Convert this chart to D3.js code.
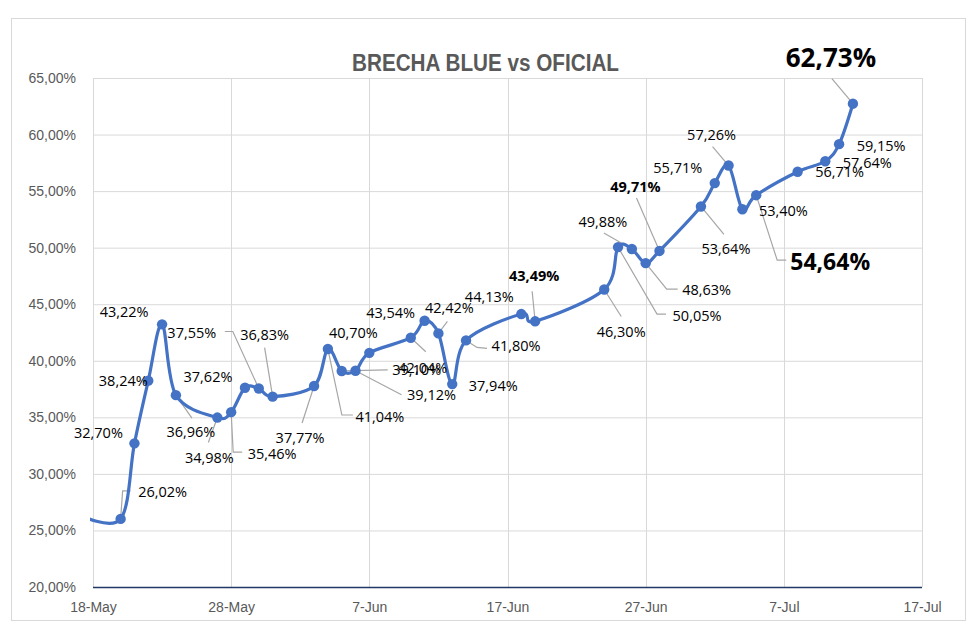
<!DOCTYPE html>
<html><head><meta charset="utf-8">
<script src="https://cdn.jsdelivr.net/npm/d3@7"></script>
<style>body{margin:0;background:#fff}svg{display:block}</style>
</head><body>
<svg id="c" width="980" height="631"></svg>
<script>
// ---- data ----
const dates = ["2024-05-17","2024-05-20","2024-05-21","2024-05-22","2024-05-23","2024-05-24",
"2024-05-27","2024-05-28","2024-05-29","2024-05-30","2024-05-31",
"2024-06-03","2024-06-04","2024-06-05","2024-06-06","2024-06-07",
"2024-06-10","2024-06-11","2024-06-12","2024-06-13","2024-06-14",
"2024-06-18","2024-06-19","2024-06-24","2024-06-25","2024-06-26","2024-06-27","2024-06-28",
"2024-07-01","2024-07-02","2024-07-03","2024-07-04","2024-07-05",
"2024-07-08","2024-07-10","2024-07-11","2024-07-12"];
const values = [26.40,26.02,32.70,38.24,43.22,36.96,
34.98,35.46,37.62,37.55,36.83,
37.77,41.04,39.10,39.12,40.70,
42.04,43.54,42.42,37.94,41.80,
44.13,43.49,46.30,50.05,49.88,48.63,49.71,
53.64,55.71,57.26,53.40,54.64,
56.71,57.64,59.15,62.73];
const yTicks = [20,25,30,35,40,45,50,55,60,65];
const xTickLabels = ["18-May","28-May","7-Jun","17-Jun","27-Jun","7-Jul","17-Jul"];
const xTickDates = ["2024-05-18","2024-05-28","2024-06-07","2024-06-17","2024-06-27","2024-07-07","2024-07-17"];
const title = "BRECHA BLUE vs OFICIAL";

// ---- label layout (offsets from point, leader elbows relative to point); null = no label ----
const labelLayout = [
 null,
 {dx:42,dy:-27,w:"n",lead:[[2,-28],[10,-28]]},
 {dx:-36,dy:-11},
 {dx:-25,dy:0},
 {dx:-38,dy:-13},
 {dx:15,dy:36,lead:[[16,23]]},
 {dx:-8,dy:40,lead:[[-9,25]]},
 {dx:41,dy:41,lead:[[2,40],[11,40]]},
 {dx:-37,dy:-11},
 {dx:-67,dy:-56,lead:[[-26,-57],[-34,-57]]},
 {dx:-8,dy:-62,lead:[[-8,-49]]},
 {dx:-14,dy:51,lead:[[-12,37]]},
 {dx:52,dy:67,lead:[[14,66],[25,66]]},
 {dx:75,dy:-1,lead:[[46,-1]]},
 {dx:76,dy:24,lead:[[46,24]]},
 {dx:-16,dy:-20},
 {dx:12,dy:30,lead:[[15,14]]},
 {dx:-34,dy:-8},
 {dx:11,dy:-26,lead:[[9,-12]]},
 {dx:41,dy:1},
 {dx:50,dy:5,lead:[[11,7],[21,8]]},
 {dx:-32,dy:-18},
 {dx:-1,dy:-46,bold:1,lead:[[-3,-30]]},
 {dx:17,dy:42,lead:[[17,27]]},
 {dx:79,dy:68,lead:[[39,67],[48,67]]},
 {dx:-29,dy:-28,lead:[[-28,-16]]},
 {dx:61,dy:26,lead:[[21,26],[32,26]]},
 {dx:-24,dy:-64,bold:1,lead:[[-23,-53]]},
 {dx:25,dy:42,lead:[[23,28]]},
 {dx:-37,dy:-16},
 {dx:-17,dy:-31,lead:[[-16,-19]]},
 {dx:41,dy:1},
 {dx:74,dy:66,bold:1,size:23,lead:[[21,65],[30,65]]},
 {dx:42,dy:0},
 {dx:42,dy:1},
 {dx:42,dy:1},
 {dx:-22,dy:-47,bold:1,size:26,lead:[[-21,-25]]}
];

const parse = d3.timeParse("%Y-%m-%d");
const data = dates.map((d,i)=>({date:parse(d), v:values[i], lab:labelLayout[i]}));

const svg = d3.select("#c");
const L=93, R=922, T=78, B=587;
const x = d3.scaleTime().domain([parse("2024-05-18"), parse("2024-07-17")]).range([L,R]);
const y = d3.scaleLinear().domain([20,65]).range([B,T]);

// frame
svg.append("rect").attr("x",11.5).attr("y",18.5).attr("width",954).attr("height",602)
  .attr("fill","#fff").attr("stroke","#d9d9d9").attr("stroke-width",1);

// title
svg.append("text").attr("x",485.5).attr("y",62.5).attr("text-anchor","middle")
  .attr("dominant-baseline","central")
  .style("font-family","'Liberation Sans Narrow','Liberation Sans',Arial,sans-serif")
  .style("font-weight","bold").style("font-size","23px").attr("fill","#595959")
  .attr("textLength",267).attr("lengthAdjust","spacingAndGlyphs")
  .text(title);

// gridlines
const g = svg.append("g");
g.selectAll(".hy").data(yTicks.filter(t=>t>20)).enter().append("line")
  .attr("x1",L).attr("x2",R).attr("y1",d=>y(d)+0.5).attr("y2",d=>y(d)+0.5)
  .attr("stroke","#d9d9d9").attr("stroke-width",1);
g.selectAll(".vx").data(xTickDates).enter().append("line")
  .attr("x1",d=>Math.round(x(parse(d)))+0.5).attr("x2",d=>Math.round(x(parse(d)))+0.5)
  .attr("y1",T).attr("y2",B).attr("stroke","#d9d9d9").attr("stroke-width",1);

// axes (labels via d3 axis)
const yAxis = d3.axisLeft(y).tickValues(yTicks).tickSize(0).tickPadding(17)
  .tickFormat(d=>d3.format(".2f")(d).replace(".",",")+"%");
const ya = svg.append("g").attr("transform",`translate(${L},0)`).call(yAxis);
ya.select(".domain").remove();
ya.selectAll("text").style("font-family","'Liberation Sans',Arial,sans-serif")
  .style("font-size","14px").attr("fill","#595959");

const xAxis = d3.axisBottom(x).tickValues(xTickDates.map(parse)).tickSize(0).tickPadding(15)
  .tickFormat((d,i)=>xTickLabels[i]);
const xa = svg.append("g").attr("transform",`translate(0,${B})`).call(xAxis);
xa.select(".domain").remove();
xa.selectAll("text").style("font-family","'Liberation Sans',Arial,sans-serif")
  .style("font-size","14px").attr("fill","#595959");

// bottom axis line
svg.append("line").attr("x1",L).attr("x2",R).attr("y1",B+0.5).attr("y2",B+0.5)
  .attr("stroke","#203864").attr("stroke-width",1.5);

// clip
svg.append("clipPath").attr("id","clip").append("rect")
  .attr("x",L-3).attr("y",0).attr("width",R-L+6).attr("height",631);

// leader lines
const lg = svg.append("g");
data.forEach(d=>{
  if(!d.lab || !d.lab.lead) return;
  const px=x(d.date), py=y(d.v);
  const pts=[[px,py]].concat(d.lab.lead.map(p=>[px+p[0],py+p[1]]));
  lg.append("path").attr("d",d3.line()(pts)).attr("fill","none")
    .attr("stroke","#a6a6a6").attr("stroke-width",1.2);
});

// line
svg.append("path").datum(data).attr("clip-path","url(#clip)")
  .attr("d",d3.line().x(d=>x(d.date)).y(d=>y(d.v)).curve(d3.curveCardinal.tension(0)))
  .attr("fill","none").attr("stroke","#4472c4").attr("stroke-width",3.2)
  .attr("stroke-linejoin","round");

// markers
svg.selectAll(".m").data(data.filter(d=>d.lab)).enter().append("circle")
  .attr("cx",d=>x(d.date)).attr("cy",d=>y(d.v)).attr("r",5.2).attr("fill","#4472c4");

// labels
svg.selectAll(".lbl").data(data.filter(d=>d.lab)).enter().append("text")
  .attr("x",d=>x(d.date)+d.lab.dx).attr("y",d=>y(d.v)+d.lab.dy)
  .attr("text-anchor","middle").attr("dominant-baseline","central")
  .style("font-family","'Open Sans','Noto Sans',sans-serif")
  .style("font-size",d=>(d.lab.size||14.5)+"px")
  .style("font-weight",d=>d.lab.bold?"bold":"normal")
  .attr("fill","#000")
  .text(d=>d3.format(".2f")(d.v).replace(".",",")+"%");
</script>
</body></html>
